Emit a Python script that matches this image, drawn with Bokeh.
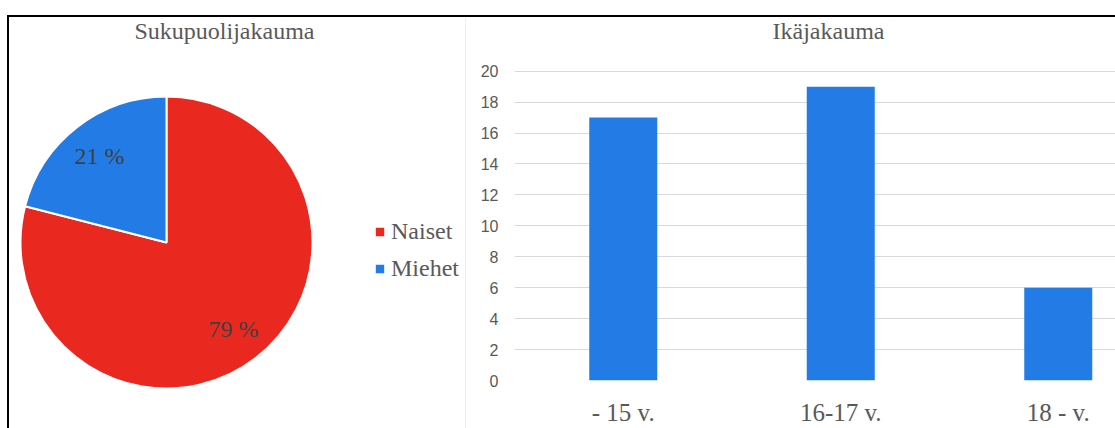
import math
from bokeh.plotting import figure
from bokeh.layouts import row
from bokeh.models import (Range1d, FixedTicker, Legend, LegendItem, Label,
                          BoxAnnotation, ColumnDataSource)
from bokeh.core.properties import value
from bokeh.embed import file_html
from bokeh.resources import INLINE

# ---------------- data ----------------
gender_labels = ["Naiset", "Miehet"]
gender_shares = [79, 21]
gender_colors = ["#E9291F", "#237CE6"]

age_categories = ["- 15 v.", "16-17 v.", "18 - v."]
age_counts = [17, 19, 6]
age_color = "#237CE6"
y_ticks = [0, 2, 4, 6, 8, 10, 12, 14, 16, 18, 20]

SERIF = "Liberation Serif"
SANS = "Liberation Sans"
TXT = "#595959"
GRID = "#D9D9D9"

TOP = 17      # page y where the figures start (below the black top border)
LEFT = 9      # page x where the left figure starts (right of the black left border)
PAGE_H = 428
TITLE_Y = 30.5

# ---------------- pie (left) ----------------
PW, PH = 466 - LEFT, PAGE_H - TOP
p1 = figure(width=PW, height=PH, x_range=Range1d(LEFT, 466), y_range=Range1d(0, PH),
            x_axis_location=None, y_axis_location=None, min_border=0,
            outline_line_color=None, output_backend="svg", toolbar_location=None)
p1.grid.visible = False

cx, cy, R = 166, PAGE_H - 242, 146
total = sum(gender_shares)
starts, ends, lx, ly, texts = [], [], [], [], []
cum = 0
for v in gender_shares:
    a0 = math.pi / 2 - cum / total * 2 * math.pi
    cum += v
    a1 = math.pi / 2 - cum / total * 2 * math.pi
    starts.append(a0)
    ends.append(a1)
    mid = (a0 + a1) / 2
    lx.append(cx + 0.75 * R * math.cos(mid))
    ly.append(cy + 0.75 * R * math.sin(mid))
    texts.append(f"{round(v / total * 100)} %")

src = ColumnDataSource(dict(start=starts, end=ends, color=gender_colors,
                            label=gender_labels, lx=lx, ly=ly, text=texts))
wedges = p1.wedge(x=cx, y=cy, radius=R, start_angle="start", end_angle="end",
                  direction="clock", fill_color="color", line_color="white",
                  line_width=2, source=src)
p1.text(x="lx", y="ly", text="text", source=src, text_align="center",
        text_baseline="middle", text_font=value(SERIF), text_font_size="24px",
        text_color="#404040")

legend = Legend(items=[LegendItem(label=lab, renderers=[wedges], index=i)
                       for i, lab in enumerate(gender_labels)],
                location=(364, 146), orientation="vertical",
                glyph_width=13, glyph_height=13, label_standoff=5, spacing=10,
                padding=0, margin=0, border_line_color=None,
                background_fill_alpha=0, label_text_font=SERIF,
                label_text_font_size="24px", label_text_color=TXT)
p1.add_layout(legend)

p1.add_layout(Label(x=224, y=PAGE_H - TITLE_Y, text="Sukupuolijakauma", text_align="center",
                    text_baseline="middle", text_font=SERIF,
                    text_font_size="24px", text_color=TXT))

# light divider between the two charts
p1.add_layout(BoxAnnotation(left=465, right=466.5, bottom=-5, top=PH + 5,
                            fill_color=GRID, fill_alpha=1, line_color=None))

# ---------------- bars (right) ----------------
BW, BH = 1115 - 466, PAGE_H - TOP
frame_left = 48
band = 217.5
unit = 15.55
xs = [i + 0.5 for i in range(len(age_categories))]

p2 = figure(width=BW, height=BH,
            x_range=Range1d(0, (BW - frame_left) / band),
            y_range=Range1d(0, (382 - TOP) / unit),
            min_border_left=frame_left, min_border_right=0, min_border_top=0,
            min_border_bottom=PAGE_H - 382, outline_line_color=None,
            output_backend="svg", toolbar_location=None)
p2.vbar(x=xs, top=age_counts, width=68 / band, fill_color=age_color, line_color=None)

p2.xgrid.visible = False
p2.ygrid.ticker = FixedTicker(ticks=y_ticks)
p2.ygrid.grid_line_color = GRID
p2.ygrid.grid_line_width = 1

p2.yaxis.ticker = FixedTicker(ticks=y_ticks)
p2.yaxis.axis_line_color = None
p2.yaxis.major_tick_line_color = None
p2.yaxis.minor_tick_line_color = None
p2.yaxis.major_tick_out = 0
p2.yaxis.major_tick_in = 0
p2.yaxis.minor_tick_out = 0
p2.yaxis.major_label_standoff = 16
p2.yaxis.major_label_text_font = SANS
p2.yaxis.major_label_text_font_size = "16px"
p2.yaxis.major_label_text_color = TXT

p2.xaxis.ticker = FixedTicker(ticks=xs)
p2.xaxis.major_label_overrides = {x: c for x, c in zip(xs, age_categories)}
p2.xaxis.axis_line_color = None
p2.xaxis.major_tick_line_color = None
p2.xaxis.minor_tick_line_color = None
p2.xaxis.major_label_standoff = 12
p2.xaxis.major_label_text_font = SERIF
p2.xaxis.major_label_text_font_size = "25px"
p2.xaxis.major_label_text_color = TXT

p2.add_layout(Label(x=(828 - 466 - frame_left) / band, y=(382 - TITLE_Y) / unit,
                    text="Ikäjakauma", text_align="center",
                    text_baseline="middle", text_font=SERIF,
                    text_font_size="24px", text_color=TXT))

for p in (p1, p2):
    if hasattr(p, "frame_align"):
        p.frame_align = False

layout = row(p1, p2, margin=(TOP - 2, 0, 0, LEFT - 2),
             styles={"border-top": "2px solid #000", "border-left": "2px solid #000"})
open("out.html", "w").write(file_html(layout, INLINE))
